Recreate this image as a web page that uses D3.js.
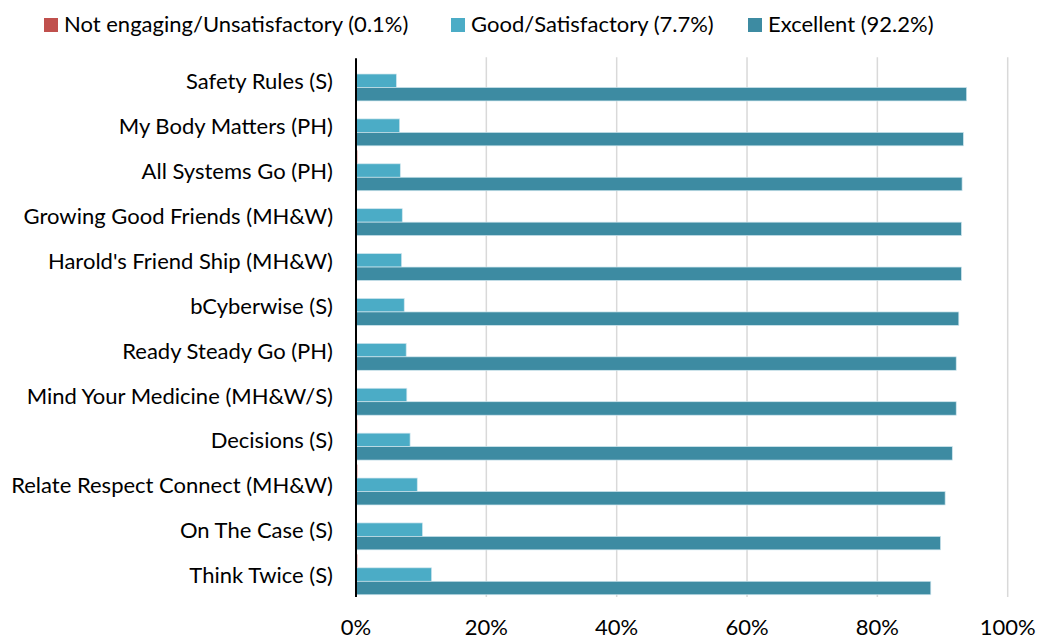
<!DOCTYPE html>
<html>
<head>
<meta charset="utf-8">
<script src="https://cdn.jsdelivr.net/npm/d3@7"></script>
<style>
  body { margin: 0; background: #fff; }
  text { font-family: Lato, "Open Sans", sans-serif; fill: #000; }
</style>
</head>
<body>
<div id="chart"></div>
<script>
// categories, top to bottom
let programs = [
  "Safety Rules (S)",
  "My Body Matters (PH)",
  "All Systems Go (PH)",
  "Growing Good Friends (MH&W)",
  "Harold's Friend Ship (MH&W)",
  "bCyberwise (S)",
  "Ready Steady Go (PH)",
  "Mind Your Medicine (MH&W/S)",
  "Decisions (S)",
  "Relate Respect Connect (MH&W)",
  "On The Case (S)",
  "Think Twice (S)"
]

// percentages
let notEngaging = [0.1, 0.1, 0.2, 0, 0.1, 0.1, 0.1, 0.1, 0.2, 0.2, 0.1, 0.2]
let goodSatisfactory = [6.2, 6.7, 6.8, 7.1, 7.0, 7.4, 7.7, 7.8, 8.3, 9.4, 10.2, 11.6]
let excellent = [93.7, 93.2, 93.0, 92.9, 92.9, 92.5, 92.1, 92.1, 91.5, 90.4, 89.7, 88.2]

let seriesNames = ["Not engaging/Unsatisfactory (0.1%)", "Good/Satisfactory (7.7%)", "Excellent (92.2%)"]
let seriesColors = ["#c0504d", "#4bacc6", "#3d8ba2"]
let xTicks = [0, 20, 40, 60, 80, 100]

let width = 1038, height = 642
let plotLeft = 356, plotRight = 1007.7, plotTop = 58.3, plotBottom = 597

let svg = d3.select("#chart")
  .append("svg")
  .attr("width", width)
  .attr("height", height)

let x = d3.scaleLinear().domain([0, 100]).range([plotLeft, plotRight])
let y = d3.scaleBand().domain(programs).range([plotTop, plotBottom])
  .paddingInner(0.1).paddingOuter(0.05)
let ySub = d3.scaleBand().domain([0, 1, 2]).range([0, y.bandwidth()])

// gridlines
svg.selectAll("line.grid")
  .data(xTicks.filter(d => d > 0))
  .enter()
  .append("line")
  .attr("class", "grid")
  .attr("x1", d => x(d)).attr("x2", d => x(d))
  .attr("y1", plotTop - 1).attr("y2", plotBottom)
  .style("stroke", "#d9d9d9")
  .style("stroke-width", 1.5)

// rows of bars
let rows = programs.map((p, i) => ({
  name: p,
  values: [notEngaging[i], goodSatisfactory[i], excellent[i]]
}))

let groups = svg.selectAll("g.row")
  .data(rows, d => d.name)
  .enter()
  .append("g")
  .attr("class", "row")
  .attr("transform", d => `translate(0 ${y(d.name)})`)

groups.selectAll("rect")
  .data(d => d.values)
  .enter()
  .append("rect")
  .attr("x", x(0))
  .attr("y", (d, i) => ySub(i))
  .attr("width", d => x(d) - x(0))
  .attr("height", ySub.bandwidth())
  .style("fill", (d, i) => seriesColors[i])
  .style("stroke", d => d > 0.5 ? "#cfe6ee" : "none")
  .style("stroke-width", 0.7)

// category labels
svg.selectAll("text.cat")
  .data(programs)
  .enter()
  .append("text")
  .attr("class", "cat")
  .attr("x", 333)
  .attr("y", d => y(d) + y.bandwidth() / 2 + 8.6)
  .attr("text-anchor", "end")
  .style("font-size", "22px")
  .text(d => d)

// vertical axis line
svg.append("line")
  .attr("x1", x(0)).attr("x2", x(0))
  .attr("y1", plotTop).attr("y2", plotBottom)
  .style("stroke", "#000")
  .style("stroke-width", 2)

// x tick labels
svg.selectAll("text.tick")
  .data(xTicks)
  .enter()
  .append("text")
  .attr("class", "tick")
  .attr("x", d => x(d))
  .attr("y", 635)
  .attr("text-anchor", "middle")
  .style("font-size", "22px")
  .text(d => d + "%")

// legend
let legendX = [44, 451, 748]
let legend = svg.selectAll("g.legend")
  .data(seriesNames)
  .enter()
  .append("g")
  .attr("class", "legend")
  .attr("transform", (d, i) => `translate(${legendX[i]} 18)`)

legend.append("rect")
  .attr("width", 14).attr("height", 14)
  .style("fill", (d, i) => seriesColors[i])

legend.append("text")
  .attr("x", 20)
  .attr("y", 14)
  .style("font-size", "22px")
  .text(d => d)
</script>
</body>
</html>
